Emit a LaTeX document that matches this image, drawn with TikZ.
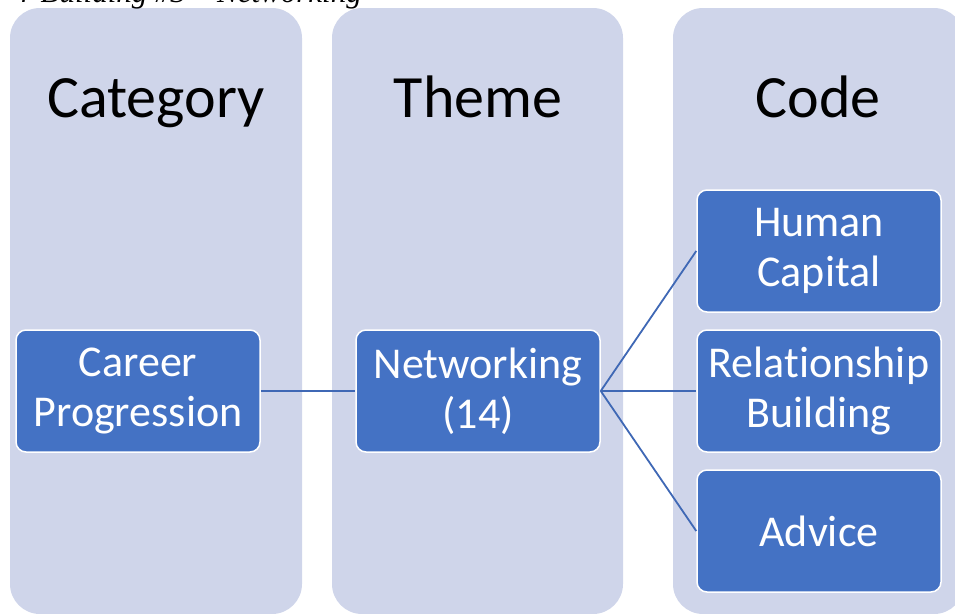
\documentclass[tikz,border=0pt]{standalone}
\usepackage{fontspec}
\setmainfont{Carlito}[Ligatures={NoCommon}]
\newfontfamily\titlefont{Liberation Serif}
\definecolor{colfill}{HTML}{CFD5EA}
\definecolor{boxfill}{HTML}{4472C4}
\definecolor{linkcol}{HTML}{3F68B5}
\begin{document}
\begin{tikzpicture}[x=1pt,y=-1pt,
  column/.style={fill=colfill,rounded corners=30pt},
  header/.style={anchor=base,font=\fontsize{60}{72}\selectfont,text=black,inner sep=0pt},
  codebox/.style={rectangle,rounded corners=10pt,fill=boxfill,draw=white,line width=1.5pt,
    text=white,align=center,minimum width=244pt,minimum height=122pt,inner sep=0pt,
    font=\fontsize{44}{50}\selectfont},
  link/.style={draw=linkcol,line width=1.8pt}]
\useasboundingbox (0,0) rectangle (955,613);
\clip (0,0) rectangle (955,613);
% columns
\fill[column] (10,8) rectangle (302,614);
\fill[column] (332,8) rectangle (623,614);
\fill[column] (673,8) rectangle (964,614);
% cut-off title
\node[anchor=base east,inner sep=0pt,font=\titlefont\itshape\fontsize{31}{36}\selectfont] (title) at (362,2) {r Building \#3 – Networking};
% headers
\node[header] (hcat) at (156,117) {Category};
\node[header] (hthe) at (478,117) {Theme};
\node[header] (hcod) at (818,117) {Code};
% boxes
\node[codebox] (career) at (138,391) {Career\\Progression};
\node[codebox] (net) at (478,391) {Networking\\(14)};
\node[codebox] (human) at (819,251) {Human\\Capital};
\node[codebox] (rel) at (819,391) {Relationship\\Building};
\node[codebox] (adv) at (819,531) {Advice};
% connectors
\draw[link] (career.east) -- (net.west);
\draw[link] (net.east) -- (human.west);
\draw[link] (net.east) -- (rel.west);
\draw[link] (net.east) -- (adv.west);
\end{tikzpicture}
\end{document}
